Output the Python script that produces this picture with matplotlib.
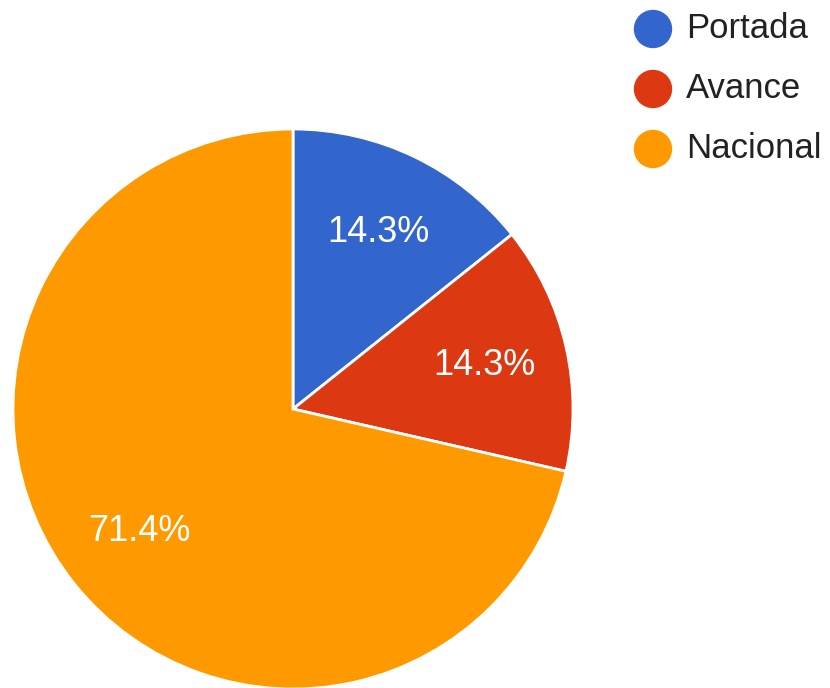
import matplotlib.pyplot as plt
from matplotlib.patches import Circle

# ================================
# DATA
# ================================
labels = ["Portada", "Avance", "Nacional"]
values = [1, 1, 5]
colors = ["#3366CC", "#DC3912", "#FF9900"]

plt.rcParams['font.family'] = ['Liberation Sans', 'DejaVu Sans']

W, H = 830, 688
fig = plt.figure(figsize=(W / 100, H / 100), dpi=100)
ax = fig.add_axes([0, 0, 1, 1])

# pie in pixel coordinates (y up)
wedges, texts, autotexts = ax.pie(
    values, colors=colors, startangle=90, counterclock=False,
    center=(293, H - 409), radius=280,
    autopct='%1.1f%%', pctdistance=0.7,
    wedgeprops=dict(edgecolor='white', linewidth=2),
    textprops=dict(color='white', fontsize=26),
)

ax.set_xlim(0, W)
ax.set_ylim(0, H)
ax.set_aspect('equal')
ax.axis('off')

# legend drawn by hand, Google Charts style
for i, (lab, col) in enumerate(zip(labels, colors)):
    y = H - (29 + 60 * i)
    ax.add_patch(Circle((653, y), 18.5, color=col))
    ax.text(686, y, lab, fontsize=25, color='#222222', va='center', ha='left')

fig.savefig("out.png", dpi=100)
